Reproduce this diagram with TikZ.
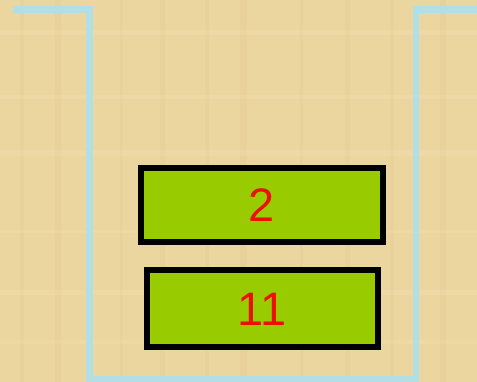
\documentclass[tikz,border=0pt]{standalone}
\usepackage{fontspec}
\setmainfont{Liberation Sans}
\definecolor{parch}{RGB}{236,214,160}
\definecolor{parchdark}{RGB}{222,198,140}
\definecolor{parchlight}{RGB}{244,226,180}
\definecolor{wallblue}{RGB}{178,222,230}
\definecolor{boxgreen}{RGB}{153,204,0}
\definecolor{numred}{RGB}{236,16,0}
\tikzset{
  stackbox/.style={draw=black, line width=6pt, fill=boxgreen, text=numred,
    font=\fontsize{47}{47}\selectfont, inner sep=0pt},
  wall/.style={draw=wallblue, line width=6.5pt}
}
\begin{document}
\begin{tikzpicture}[x=1pt,y=-1pt]
\useasboundingbox (0,0) rectangle (477,382);
\fill[parch] (0,0) rectangle (477,382);
% faint parchment texture
\foreach \x/\w in {20/4,55/6,120/3,160/5,205/4,240/7,300/3,345/5,390/4,440/6}{
  \fill[parchdark,opacity=0.25] (\x,0) rectangle (\x+\w,382);
}
\foreach \y/\h in {30/5,95/4,150/6,230/3,290/5,340/4}{
  \fill[parchlight,opacity=0.3] (0,\y) rectangle (477,\y+\h);
}
\draw[wall] (13,9.5) -- (89.5,9.5) -- (89.5,379) -- (416,379) -- (416,9.5) -- (477,9.5);
\node[stackbox, minimum width=242pt, minimum height=74pt] (b2) at (262,205) {2};
\node[stackbox, minimum width=231pt, minimum height=77pt] (b11) at (262.3,309) {11};
\end{tikzpicture}
\end{document}
